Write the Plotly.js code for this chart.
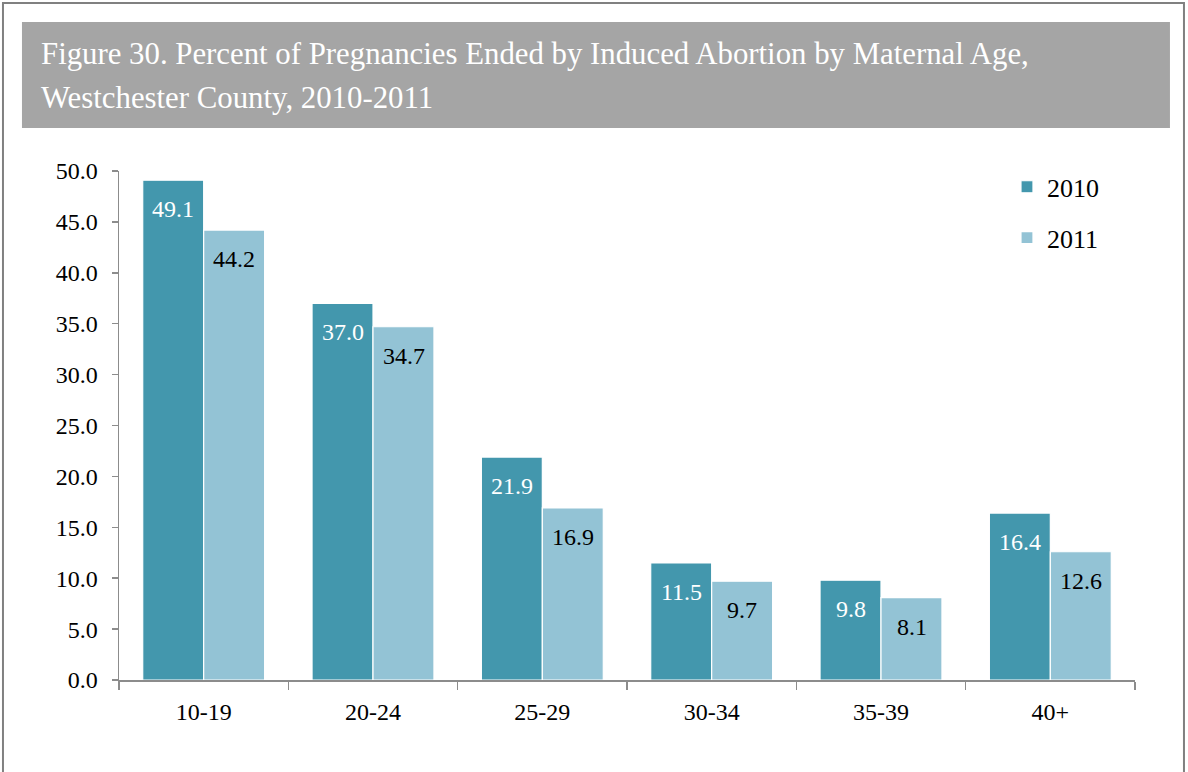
<!DOCTYPE html>
<html><head><meta charset="utf-8">
<script src="https://cdn.plot.ly/plotly-3.0.1.min.js"></script>
<style>html,body{margin:0;padding:0;background:#fff}#c{width:1188px;height:772px}</style>
</head><body><div id="c"></div>
<script>
const categories = ['10-19','20-24','25-29','30-34','35-39','40+'];
const values2010 = [49.1, 37.0, 21.9, 11.5, 9.8, 16.4];
const values2011 = [44.2, 34.7, 16.9, 9.7, 8.1, 12.6];
const seriesNames = ['2010','2011'];
const titleLines = ['Figure 30. Percent of Pregnancies Ended by Induced Abortion by Maternal Age,', 'Westchester County, 2010-2011'];

const serif = 'Liberation Serif, Times New Roman, serif';
const c2010 = '#4397ad', c2011 = '#93c3d5';

const traces = [
  {type:'bar', name:seriesNames[0], x:categories, y:values2010, marker:{color:c2010, line:{color:'#ffffff', width:1.2}}, legendgroup:'a', hoverinfo:'none'},
  {type:'bar', name:seriesNames[1], x:categories, y:values2011, marker:{color:c2011, line:{color:'#ffffff', width:1.2}}, legendgroup:'b', hoverinfo:'none'}
];

const annotations = [];
categories.forEach((cat,i)=>{
  annotations.push({x:cat, y:values2010[i], xref:'x', yref:'y', xshift:-30.5, yshift:-29, text:values2010[i].toFixed(1), showarrow:false, xanchor:'center', yanchor:'middle', font:{family:serif, size:24, color:'#ffffff'}});
  annotations.push({x:cat, y:values2011[i], xref:'x', yref:'y', xshift:30.5, yshift:-29, text:values2011[i].toFixed(1), showarrow:false, xanchor:'center', yanchor:'middle', font:{family:serif, size:24, color:'#000000'}});
});
annotations.push({xref:'paper', yref:'paper', x:-0.0785, y:1.2299, xanchor:'left', yanchor:'middle', text:titleLines[0], showarrow:false, font:{family:serif, size:30.8, color:'#ffffff'}});
annotations.push({xref:'paper', yref:'paper', x:-0.0785, y:1.1434, xanchor:'left', yanchor:'middle', text:titleLines[1], showarrow:false, font:{family:serif, size:30.8, color:'#ffffff'}});

const layout = {
  width:1188, height:772,
  margin:{l:119, r:53, t:171, b:92},
  paper_bgcolor:'#ffffff', plot_bgcolor:'#ffffff',
  barmode:'group', bargap:0.28, bargroupgap:0,
  showlegend:true,
  legend:{x:0.874, y:1.015, xanchor:'left', yanchor:'top', font:{family:serif, size:26, color:'#000'}, tracegroupgap:14, bgcolor:'rgba(0,0,0,0)'},
  xaxis:{type:'category', showline:true, linecolor:'#8c8c8c', linewidth:1.5, ticks:'outside', tickson:'boundaries', ticklen:8, tickcolor:'#8c8c8c', tickwidth:1.5, showgrid:false, tickfont:{family:serif, size:24, color:'#000'}, ticklabelstandoff:10, fixedrange:true},
  yaxis:{range:[0,50], dtick:5, tickformat:'.1f', showline:true, linecolor:'#8c8c8c', linewidth:1.5, ticks:'outside', ticklen:6, tickcolor:'#8c8c8c', tickwidth:1.5, showgrid:false, zeroline:false, tickfont:{family:serif, size:24, color:'#000'}, ticklabelstandoff:9, fixedrange:true},
  shapes:[
    {type:'rect', xref:'paper', yref:'paper', x0:-0.1142, x1:1.0482, y0:-0.1866, y1:1.330, line:{color:'#808080', width:2}, fillcolor:'rgba(0,0,0,0)', layer:'below'},
    {type:'rect', xref:'paper', yref:'paper', x0:-0.0955, x1:1.0344, y0:1.0845, y1:1.2927, line:{width:0}, fillcolor:'#a5a5a5', layer:'below'}
  ],
  annotations:annotations
};
Plotly.newPlot('c', traces, layout, {displayModeBar:false, staticPlot:true});
</script></body></html>
